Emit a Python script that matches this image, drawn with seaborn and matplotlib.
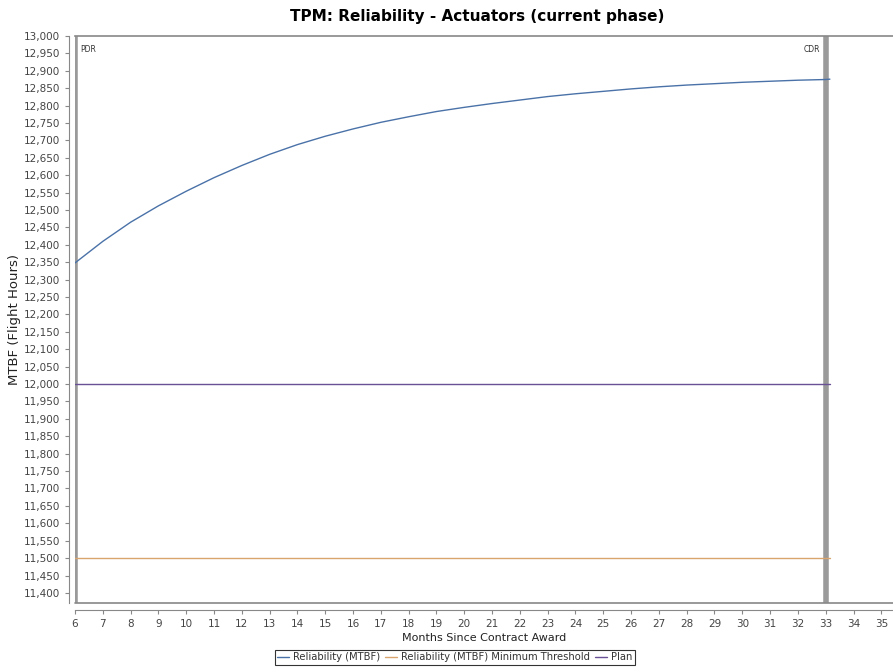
import matplotlib
matplotlib.use("Agg")
import matplotlib.pyplot as plt
import matplotlib.ticker as mticker
import seaborn as sns
import pandas as pd

# ---- data ----
months = [6, 7, 8, 9, 10, 11, 12, 13, 14, 15, 16, 17, 18, 19, 20, 21, 22, 23, 24,
          25, 26, 27, 28, 29, 30, 31, 32, 33, 33.15]
reliability = [12348, 12410, 12465, 12512, 12554, 12593, 12628, 12660, 12688, 12712,
               12733, 12752, 12768, 12783, 12795, 12806, 12816, 12826, 12834, 12841,
               12848, 12854, 12859, 12863, 12867, 12870, 12873, 12875, 12876]
min_threshold = [11500] * len(months)
plan = [12000] * len(months)
series_names = ["Reliability (MTBF)", "Reliability (MTBF) Minimum Threshold", "Plan"]
series_colors = ["#4a72a8", "#d9a46e", "#6a5196"]
milestones = [6, 33]
milestone_labels = ["PDR", "CDR"]
x_ticks = list(range(6, 36))
y_ticks = list(range(11400, 13001, 50))

df = pd.concat([
    pd.DataFrame({"month": months, "value": reliability, "series": series_names[0]}),
    pd.DataFrame({"month": months, "value": min_threshold, "series": series_names[1]}),
    pd.DataFrame({"month": months, "value": plan, "series": series_names[2]}),
])

sns.set_style("white")
plt.rcParams["font.family"] = ["DejaVu Sans"]

fig = plt.figure(figsize=(8.93, 6.69), dpi=100)
ax = fig.add_axes([75 / 893, 1 - 603 / 669, 1 - 75 / 893, (603 - 36) / 669])

sns.lineplot(data=df, x="month", y="value", hue="series", hue_order=series_names,
             palette=series_colors, linewidth=1.0, ax=ax, legend=False, sort=False)

ax.set_xlim(6, 35.42)
ax.set_ylim(11371, 13000)

# milestone markers
for m, lab, ha, dx in zip(milestones, milestone_labels, ["left", "right"], [4, -4]):
    ax.axvline(m, color="#9a9a9a", linewidth=4, zorder=1)
    ax.annotate(lab, xy=(m, 1), xycoords=("data", "axes fraction"),
                xytext=(dx, -10), textcoords="offset points", ha=ha, va="center",
                fontsize=5.5, color="#333333")

ax.set_xticks(x_ticks)
ax.set_yticks(y_ticks)
ax.yaxis.set_major_formatter(mticker.FuncFormatter(lambda v, p: f"{int(v):,}"))
ax.tick_params(axis="both", which="major", labelsize=7.5, labelcolor="#444444",
               color="#888888", length=3, width=0.8, direction="out", left=True, bottom=True)

ax.spines["right"].set_visible(False)
ax.spines["top"].set_color("#888888")
ax.spines["top"].set_linewidth(1.2)
ax.spines["left"].set_position(("outward", 4))
ax.spines["left"].set_color("#888888")
ax.spines["bottom"].set_position(("outward", 5))
ax.spines["bottom"].set_color("#888888")
ax.plot([0, 1], [0, 0], transform=ax.transAxes, color="#888888", linewidth=1.2,
        clip_on=False, zorder=3)

ax.set_xlabel("Months Since Contract Award", fontsize=8, color="#222222", labelpad=3)
ax.set_ylabel("MTBF (Flight Hours)", fontsize=9.5, color="#222222", labelpad=2)
fig.text(477 / 893, 1 - 17 / 669, "TPM: Reliability - Actuators (current phase)",
         ha="center", va="center", fontsize=11, fontweight="bold", color="black")

handles = [plt.Line2D([], [], color=c, linewidth=1.0) for c in series_colors]
leg = fig.legend(handles, series_names, loc="center", bbox_to_anchor=(455 / 893, 1 - 657 / 669),
                 ncol=3, fontsize=7.2, frameon=True, fancybox=False, edgecolor="black",
                 handlelength=1.2, handletextpad=0.4, columnspacing=0.5, borderpad=0.25,
                 borderaxespad=0)
leg.get_frame().set_linewidth(0.8)
for t in leg.get_texts():
    t.set_color("#333333")

fig.savefig("out.png", dpi=100)
